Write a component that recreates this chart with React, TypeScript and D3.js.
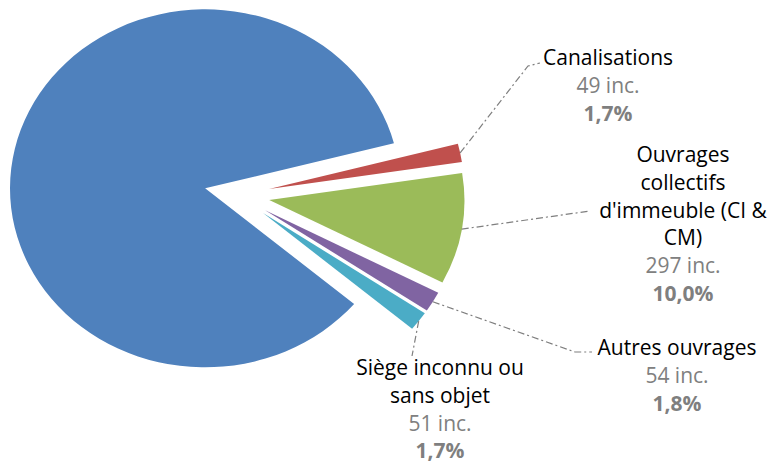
import React, { useEffect, useRef } from 'react';
import * as d3 from 'd3';

// slice data, first entry (blue) has no visible label in the reference
const categories = ['', 'Canalisations', "Ouvrages collectifs d'immeuble (CI & CM)", 'Autres ouvrages', 'Siège inconnu ou sans objet'];
const counts = [2512, 49, 297, 54, 51];
const percentLabels = ['', '1,7%', '10,0%', '1,8%', '1,7%'];
const colors = ['#4F81BD', '#C0504D', '#9BBB59', '#8064A2', '#4BACC6'];

// label layout: lines, centre x, first baseline
const labelLines = [
  [],
  ['Canalisations'],
  ['Ouvrages', 'collectifs', "d'immeuble (CI &", 'CM)'],
  ['Autres ouvrages'],
  ['Siège inconnu ou', 'sans objet'],
];
const labelPos = [null, [608, 65], [683, 162], [677, 355], [440, 375]];
const leaderEnds = [null, [[528, 66], [540, 63]], [[590, 211]], [[575, 352], [592, 352]], [[412, 356]]];

const W = 772, H = 464;
const cx = 237, cy = 195, R = 179, sx = 1.09, explode = 30;
const LH = 27.8;

export default function App() {
  const ref = useRef<SVGSVGElement | null>(null);

  useEffect(() => {
    const svg = d3.select(ref.current);
    svg.selectAll('*').remove();

    const start = (130.2 * Math.PI) / 180;
    const pie = d3.pie<number>().sort(null).value(d => d).startAngle(start).endAngle(start + 2 * Math.PI);
    const arcs = pie(counts);
    const arc = d3.arc<d3.PieArcDatum<number>>().innerRadius(0).outerRadius(R);

    const g = svg.append('g').attr('transform', `translate(${cx},${cy}) scale(${sx},1)`);
    g.selectAll('path')
      .data(arcs)
      .enter()
      .append('path')
      .attr('d', d => arc(d) as string)
      .attr('fill', (d, i) => colors[i])
      .attr('transform', d => {
        const m = (d.startAngle + d.endAngle) / 2;
        return `translate(${explode * Math.sin(m)},${-explode * Math.cos(m)})`;
      });

    // leader lines
    arcs.forEach((d, i) => {
      if (!leaderEnds[i]) return;
      const m = (d.startAngle + d.endAngle) / 2;
      const p0: [number, number] = [cx + (R + explode) * Math.sin(m) * sx, cy - (R + explode) * Math.cos(m)];
      const pts = [p0, ...(leaderEnds[i] as [number, number][])];
      svg.append('path')
        .attr('d', d3.line()(pts) as string)
        .attr('fill', 'none')
        .attr('stroke', '#7f7f7f')
        .attr('stroke-width', 1.2)
        .attr('stroke-dasharray', '7,3,2,3');
    });

    // labels
    labelLines.forEach((lines, i) => {
      const pos = labelPos[i];
      if (!pos) return;
      const t = svg.append('text')
        .attr('text-anchor', 'middle')
        .attr('font-family', 'Open Sans, Noto Sans, sans-serif')
        .attr('font-size', 21);
      const all = [
        ...lines.map(s => ({ s, fill: '#000', w: 400 })),
        { s: `${counts[i]} inc.`, fill: '#808080', w: 400 },
        { s: percentLabels[i], fill: '#7f7f7f', w: 700 },
      ];
      all.forEach((l, k) => {
        t.append('tspan')
          .attr('x', pos[0])
          .attr('y', pos[1] + k * LH)
          .attr('fill', l.fill)
          .attr('font-weight', l.w)
          .text(l.s);
      });
    });
  }, []);

  return (
    <div style={{ position: 'fixed', left: 0, top: 0 }}>
      <svg ref={ref} width={W} height={H} style={{ display: 'block', background: '#fff' }} />
    </div>
  );
}
